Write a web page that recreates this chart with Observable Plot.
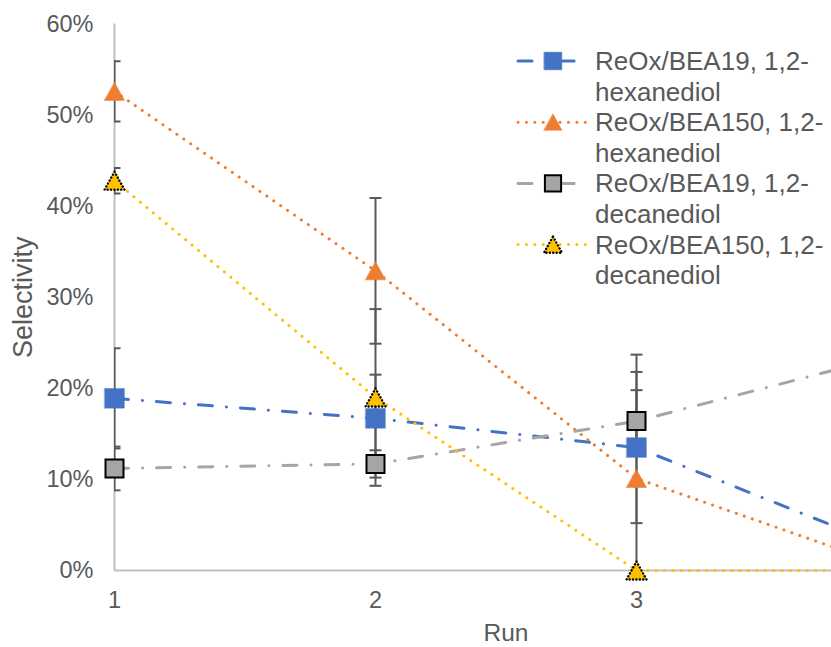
<!DOCTYPE html>
<html><head><meta charset="utf-8">
<script src="https://cdn.jsdelivr.net/npm/d3@7"></script>
<script src="https://cdn.jsdelivr.net/npm/@observablehq/plot@0.6"></script>
<style>
html,body{margin:0;padding:0;background:#fff;overflow:hidden;}
#wrap{position:relative;width:831px;height:647px;overflow:hidden;}
#wrap svg.legend{position:absolute;left:0;top:0;pointer-events:none;}
</style></head><body><div id="wrap"></div>
<script>
// ---- data ----
const runs = [1, 2, 3, 4];
const seriesNames = [
  "ReOx/BEA19, 1,2-hexanediol",
  "ReOx/BEA150, 1,2-hexanediol",
  "ReOx/BEA19, 1,2-decanediol",
  "ReOx/BEA150, 1,2-decanediol"
];
const hex19 = [18.9, 16.7, 13.5, 2.1];
const hex19Err = [5.5, 4.8, 8.3, 0];
const hex150 = [52.6, 32.9, 10.1, 0.1];
const hex150Err = [3.3, 8.0, 13.6, 0];
const dec19 = [11.2, 11.7, 16.4, 23.8];
const dec19Err = [2.4, 1.5, 3.4, 0];
const dec150 = [42.8, 19.0, 0, 0];
const dec150Err = [1.4, 9.7, 0, 0];
const yTicks = [0, 10, 20, 30, 40, 50, 60];
const xTicks = [1, 2, 3];
const xLabel = "Run";
const yLabel = "Selectivity";

// ---- symbols ----
const squareSym = {draw(ctx, size){ const r = Math.sqrt(size/Math.PI); ctx.rect(-r,-r,2*r,2*r); }};
const triSym = {draw(ctx, size){ const r = Math.sqrt(size/Math.PI); ctx.moveTo(0,-0.9*r); ctx.lineTo(r,0.9*r); ctx.lineTo(-r,0.9*r); ctx.closePath(); }};
const capSym = {draw(ctx){ ctx.moveTo(-6,0); ctx.lineTo(6,0); }};

const values = [hex19, hex150, dec19, dec150];
const errors = [hex19Err, hex150Err, dec19Err, dec150Err];
const styles = [
  {color:"#4472C4", dash:"14,14,0.1,14", sym:squareSym, r:9.8, mStroke:"#4472C4", mW:0.5, mDash:null},
  {color:"#ED7D31", dash:"0.1,8.3", sym:triSym, r:10, mStroke:"#ED7D31", mW:0.5, mDash:null},
  {color:"#A5A5A5", dash:"14,14,0.1,14", sym:squareSym, r:9, mStroke:"#000000", mW:2, mDash:null},
  {color:"#FFC000", dash:"0.1,8.3", sym:triSym, r:10, mStroke:"#000000", mW:2.4, mDash:"0.1,3.3"}
];
const rows = seriesNames.map((s, i) => runs.map((run, j) => ({series: s, run, v: values[i][j], e: errors[i][j]})));
const allRows = rows.flat();

const font = "'Liberation Sans', Arial, sans-serif";
const axisColor = "#595959";

const marks = [
  Plot.ruleX([1], {stroke:"#BFBFBF", strokeWidth:2}),
  Plot.ruleY([0], {stroke:"#BFBFBF", strokeWidth:2}),
  Plot.axisY({ticks: yTicks, tickFormat: d => d + "%", tickSize: 0, tickPadding: 21, label: null}),
  Plot.axisX({ticks: xTicks, tickFormat: d => String(d), tickSize: 0, tickPadding: 21, label: null}),
  Plot.text([yLabel], {frameAnchor:"left", textAnchor:"middle", lineAnchor:"middle", dx:-91.5, rotate:-90, fontSize:27, fill:axisColor}),
  Plot.text([xLabel], {x: [(d3.min(runs)+d3.max(runs))/2], frameAnchor:"bottom", textAnchor:"middle", lineAnchor:"middle", dy:62.5, fontSize:24.5, fill:axisColor})
];
rows.forEach((data, i) => {
  const st = styles[i];
  marks.push(Plot.line(data, {x:"run", y:"v", stroke:st.color, strokeWidth:3, strokeDasharray:st.dash, strokeLinecap:"round"}));
});
// error bars
marks.push(Plot.ruleX(allRows.filter(d => d.e > 0), {x:"run", y1: d => d.v - d.e, y2: d => d.v + d.e, stroke:"#595959", strokeWidth:2, clip:true}));
marks.push(Plot.dot(allRows.filter(d => d.e > 0), {x:"run", y: d => d.v + d.e, symbol: capSym, stroke:"#595959", strokeWidth:2, clip:true}));
marks.push(Plot.dot(allRows.filter(d => d.e > 0), {x:"run", y: d => d.v - d.e, symbol: capSym, stroke:"#595959", strokeWidth:2, clip:true}));
rows.forEach((data, i) => {
  const st = styles[i];
  marks.push(Plot.dot(data, {x:"run", y:"v", symbol: st.sym, r: st.r, fill: st.color, stroke: st.mStroke, strokeWidth: st.mW, strokeDasharray: st.mDash, strokeLinecap:"round"}));
});

const chart = Plot.plot({
  width: 831, height: 647,
  marginLeft: 114, marginRight: 0, marginTop: 23.5, marginBottom: 77,
  x: {domain: [1, 4], range: [114, 897]},
  y: {domain: [0, 60]},
  style: {fontFamily: font, fontSize: "23.5px", color: axisColor, background: "#fff"},
  marks
});
const wrap = document.getElementById("wrap");
wrap.appendChild(chart);

// ---- legend (overlay) ----
const leg = d3.create("svg").attr("class","legend").attr("width",831).attr("height",647);
const lineH = 30.6;
seriesNames.forEach((name, i) => {
  const st = styles[i];
  const cy = 61 + i * 2 * lineH;
  const g = leg.append("g");
  g.append("line").attr("x1",518).attr("x2",588).attr("y1",cy).attr("y2",cy)
    .attr("stroke",st.color).attr("stroke-width",3).attr("stroke-dasharray",st.dash).attr("stroke-linecap","round");
  const p = d3.path();
  st.sym.draw(p, Math.PI * (st.r*0.9) * (st.r*0.9));
  g.append("path").attr("d", p.toString()).attr("transform",`translate(553,${cy})`)
    .attr("fill",st.color).attr("stroke",st.mStroke).attr("stroke-width",st.mW)
    .attr("stroke-dasharray",st.mDash).attr("stroke-linecap","round");
  const m = name.match(/^(.*1,2-)(.*)$/);
  const parts = m ? [m[1], m[2]] : [name];
  parts.forEach((t, k) => {
    g.append("text").attr("x",595).attr("y",cy + 9 + k*lineH)
      .attr("font-family",font).attr("font-size",26).attr("fill",axisColor).text(t);
  });
});
wrap.appendChild(leg.node());
</script></body></html>
